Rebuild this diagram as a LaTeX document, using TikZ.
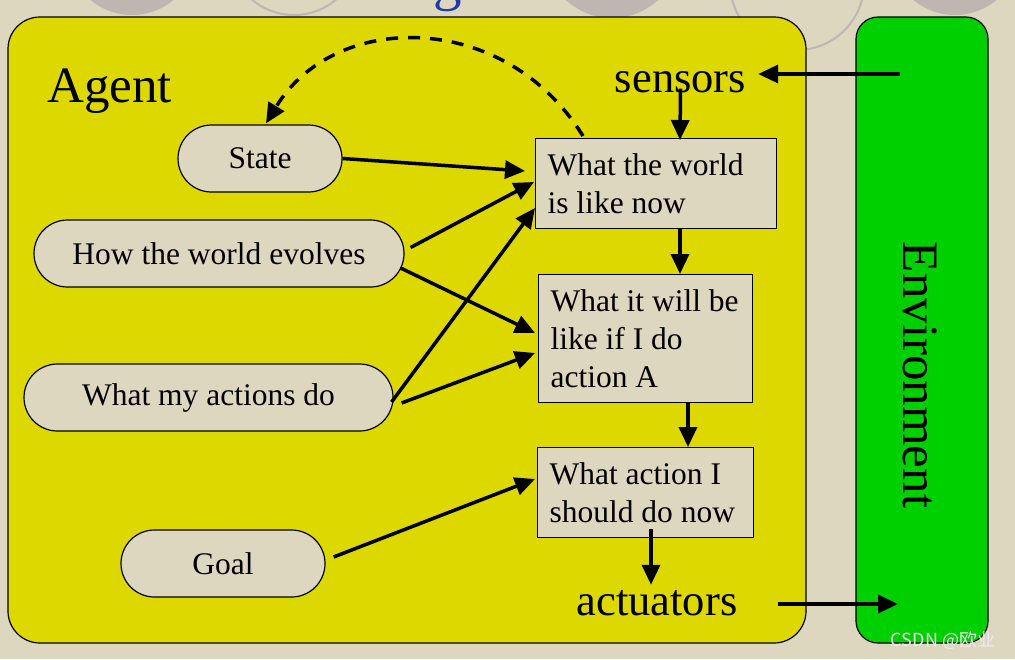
\documentclass[tikz,border=0pt]{standalone}
\usepackage{fontspec}
\setmainfont{Liberation Serif}
\newfontfamily\cjkfont{Noto Sans CJK SC}
\usetikzlibrary{arrows.meta,shapes.misc,calc}
\definecolor{bgc}{RGB}{222,215,192}
\definecolor{agentc}{RGB}{221,216,0}
\definecolor{envc}{RGB}{0,208,0}
\definecolor{pillc}{RGB}{222,215,192}
\definecolor{decor}{RGB}{190,182,176}
\definecolor{titlec}{RGB}{30,60,165}
\definecolor{wmark}{RGB}{235,235,235}
\begin{document}
\begin{tikzpicture}[x=1pt,y=-1pt,
  pill/.style={rounded rectangle, draw=black, line width=1.2pt, fill=pillc, inner sep=0pt, font=\fontsize{31.5}{38}\selectfont},
  infobox/.style={rectangle, draw=black, line width=1.2pt, fill=pillc, anchor=north west, inner xsep=12pt, inner ysep=0pt, align=flush left, font=\fontsize{31.5}{38}\selectfont},
  arr/.style={line width=3.5pt, -{Triangle[length=20pt,width=18pt]}},
  dasharr/.style={line width=3.5pt, dash pattern=on 12pt off 10pt, -{Triangle[length=20pt,width=18pt]}},
  bigtext/.style={font=\fontsize{44.5}{50}\selectfont, inner sep=0pt},
  decorfill/.style={fill=decor, draw=none},
  decorline/.style={draw=decor, line width=2pt}
]
\useasboundingbox (0,0) rectangle (1015,659);
\clip (0,0) rectangle (1015,659);
\fill[bgc] (0,0) rectangle (1015,659);
% background decoration
\fill[decorfill] (132,-50) circle (65);
\draw[decorline] (294,-50) circle (65);
\fill[decorfill] (612,-50) circle (68);
\draw[decorline] (797,-17) circle (67);
\fill[decorfill] (955,-50) circle (65);
\node[anchor=base west, inner sep=0pt, text=titlec, font=\fontsize{57}{62}\selectfont] (title) at (4,-1) {The Structure of Agents};
% main panels
\draw[fill=agentc, line width=1.2pt, rounded corners=32pt] (8,17) rectangle (806,643);
\draw[fill=envc, line width=1.2pt, rounded corners=22pt] (856,17) rectangle (988,643);
\node[rotate=-90, inner sep=0pt, font=\fontsize{51}{56}\selectfont] (env) at (920,375) {Environment};
\node[anchor=base west, inner sep=0pt, font=\fontsize{51}{56}\selectfont] (agent) at (47,102) {Agent};
\node[bigtext, anchor=base] (sensors) at (680.5,92) {sensors};
\node[bigtext, anchor=base] (act) at (657,615) {actuators};
% pills
\node[pill, minimum width=164pt, minimum height=67pt] (state) at (260,158.5) {State};
\node[pill, minimum width=370pt, minimum height=67pt] (evolves) at (219,253.5) {How the world evolves};
\node[pill, minimum width=369pt, minimum height=67pt] (actions) at (208.5,397.5) {What my actions do};
\node[pill, minimum width=204pt, minimum height=67pt] (goal) at (223,563.5) {Goal};
% boxes
\node[infobox, text width=217pt, minimum height=90pt] (b1) at (535,138) {\mbox{What the world}\\\mbox{is like now}};
\node[infobox, text width=190pt, minimum height=128pt] (b2) at (538,274) {\mbox{What it will be}\\\mbox{like if I do}\\\mbox{action A}};
\node[infobox, text width=192pt, minimum height=90pt] (b3) at (537,447) {\mbox{What action I}\\\mbox{should do now}};
% free ends inside Environment
\coordinate (sin) at (900,74);
\coordinate (aout) at (898,604);
% connectors
\draw[arr, shorten >=12pt] (sin) -- (sin -| sensors.east);
\draw[arr] ($(sensors.south)+(0,-4)$) -- ($(b1.north west)+(145,2)$);
\draw[arr] (state.east) -- ($(b1.north west)+(-10,33)$);
\draw[arr] ($(evolves.east)+(6,-6)$) -- ($(b1.north west)+(-1,44)$);
\draw[arr] ($(evolves.east)+(-4,14.5)$) -- ($(b2.north west)+(-3,59)$);
\draw[arr] ($(actions.east)+(-2,4.5)$) -- ($(b1.north west)+(0,70)$);
\draw[arr] ($(actions.east)+(8,5.5)$) -- ($(b2.north west)+(-3,79)$);
\draw[arr] ($(goal.east)+(8,-6.5)$) -- ($(b3.north west)+(-2,32)$);
\draw[arr] ($(b1.south west)+(145,0)$) -- ($(b2.north west)+(142,0)$);
\draw[arr] ($(b2.south west)+(150,0)$) -- ($(b3.north west)+(151,0)$);
\draw[arr] ($(b3.south west)+(114,-9)$) -- ($(act.north)+(-6,-5)$);
\draw[arr] ([xshift=40pt]act.east |- aout) -- (aout);
\draw[dasharr] ($(b1.north west)+(48,-2)$) .. controls (505,10) and (335,10) .. ($(state.north)+(6,-1)$);
% watermark
\node[inner sep=0pt, text=wmark, font=\cjkfont\fontsize{18}{20}\selectfont] (wm) at (943,640) {CSDN @欧业};
\end{tikzpicture}
\end{document}
